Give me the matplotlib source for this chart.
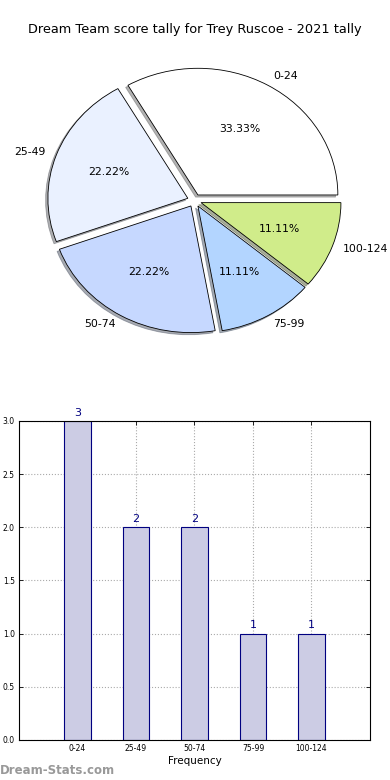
import matplotlib
matplotlib.use('Agg')
import matplotlib.pyplot as plt

# data
categories = ['0-24', '25-49', '50-74', '75-99', '100-124']
counts = [3, 2, 2, 1, 1]
pie_colors = ['#ffffff', '#eaf1ff', '#c6d8ff', '#b3d5ff', '#d0ec8a']
title = 'Dream Team score tally for Trey Ruscoe - 2021 tally'

fig = plt.figure(figsize=(3.9, 7.8), dpi=100)

# pie chart (elliptical, like the old matplotlib output)
ax1 = fig.add_axes([0.05, 0.54, 0.897, 0.406])
wedges, texts, autotexts = ax1.pie(
    counts, labels=categories, colors=pie_colors, autopct='%1.2f%%',
    explode=[0.05] * len(counts), startangle=0, labeldistance=1.08,
    shadow={'ox': -0.012, 'oy': -0.012, 'shade': 0.6},
    wedgeprops={'edgecolor': 'black', 'linewidth': 0.6},
    textprops={'fontsize': 7.8})
ax1.set_aspect('auto')
ax1.set_xlim(-1.25, 1.25)
ax1.set_ylim(-1.25, 1.25)
fig.text(0.5, 0.962, title, ha='center', va='center', fontsize=9.3)

# bar chart
ax2 = fig.add_axes([0.0487, 0.0513, 0.9, 0.409])
x = list(range(len(categories)))
bars = ax2.bar(x, counts, width=0.45, color='#ccccE4', edgecolor='#000080', linewidth=0.8, zorder=2)
for xi, c in zip(x, counts):
    ax2.text(xi, c + 0.03, str(c), ha='center', va='bottom', color='#000080', fontsize=8)
ax2.set_xlim(-1, 5)
ax2.set_ylim(0, 3.0)
ax2.set_xticks(x)
ax2.set_xticklabels(categories, fontsize=5.5)
ax2.set_yticks([0, 0.5, 1.0, 1.5, 2.0, 2.5, 3.0])
ax2.set_yticklabels(['0.0', '0.5', '1.0', '1.5', '2.0', '2.5', '3.0'], fontsize=5.5)
ax2.tick_params(direction='in', top=True, right=True, length=3, width=0.6, pad=3)
ax2.grid(True, linestyle=':', color='#aaaaaa', linewidth=0.8, zorder=0)
ax2.set_axisbelow(True)
ax2.set_xlabel('Frequency', fontsize=7.5, labelpad=2)

fig.text(0.0, 0.012, 'Dream-Stats.com', ha='left', va='center', fontsize=8.5,
         fontweight='bold', color='#999999')

plt.savefig('out.png', dpi=100)
